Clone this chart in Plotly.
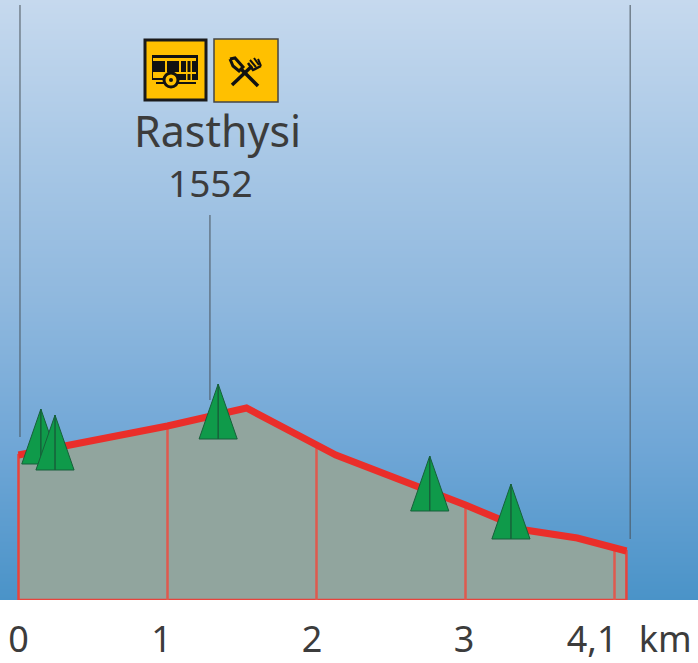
import plotly.graph_objects as go

W, H, PLOT_H = 698, 663, 600
X0, PX_PER_KM = 18.5, 149.0
Y_TOP, Y_BOT = 1960, 1360

profile_km = [0, 1.0, 1.53, 2.13, 3.0, 3.4, 3.75, 4.08]
profile_m = [1505, 1534, 1552, 1505, 1455, 1430, 1422, 1409]
tick_km = [1, 2, 3, 4.0]
tick_top_m = [1534, 1516, 1455, 1413]
label_km = [0.0, 0.96, 1.97, 2.99, 3.85, 4.34]
label_text = ["0", "1", "2", "3", "4,1", "km"]
tree_km = [0.15, 0.245, 1.34, 2.76, 3.305]
tree_base_m = [1496, 1490, 1521, 1449, 1421]
tree_half_km = 0.128
tree_height_m = 55
leader_km = [0.01, 1.285, 4.105]
leader_top_m = [1955, 1745, 1955]
leader_bot_m = [1523, 1560, 1421]
sky_y = [1360, 1510, 1660, 1810, 1960]
sky_z = [0, 0.25, 0.5, 0.75, 1]
sky_colors = [[0, "#4a93c8"], [0.25, "#6fa6d6"], [0.5, "#8fb8de"], [0.75, "#a9c8e6"], [1, "#c6d9ee"]]
YEL = "#ffc000"
DARK = "#3c3c3c"

fig = go.Figure()
fig.add_trace(go.Heatmap(x=[-0.2, 4.7], y=sky_y, z=[[v, v] for v in sky_z], colorscale=sky_colors,
                         showscale=False, zsmooth="best", hoverinfo="skip"))
end_km = profile_km[-1]
# area
fig.add_trace(go.Scatter(x=[0] + profile_km + [end_km, 0], y=[Y_BOT] + profile_m + [Y_BOT, Y_BOT],
                         mode="lines", fill="toself", fillcolor="#91a59e",
                         line=dict(color="#e8433c", width=2.5), showlegend=False))
# km lines
vx, vy = [], []
for k, t in zip(tick_km, tick_top_m):
    vx += [k, k, None]
    vy += [Y_BOT, t, None]
fig.add_trace(go.Scatter(x=vx, y=vy, mode="lines", line=dict(color="#df5a4e", width=2.5), showlegend=False))
# leaders
lx, ly = [], []
for k, a, b in zip(leader_km, leader_top_m, leader_bot_m):
    lx += [k, k, None]
    ly += [a, b, None]
fig.add_trace(go.Scatter(x=lx, y=ly, mode="lines", line=dict(color="#4a545c", width=1), showlegend=False))
# profile
fig.add_trace(go.Scatter(x=profile_km, y=profile_m, mode="lines",
                         line=dict(color="#ea2e2a", width=7), showlegend=False))
# trees
for k, b in zip(tree_km, tree_base_m):
    fig.add_trace(go.Scatter(x=[k - tree_half_km, k, k + tree_half_km, k - tree_half_km],
                             y=[b, b + tree_height_m, b, b], mode="lines", fill="toself",
                             fillcolor="#0f9a4a", line=dict(color="#17603a", width=1), showlegend=False))
    fig.add_trace(go.Scatter(x=[k, k], y=[b, b + tree_height_m], mode="lines",
                             line=dict(color="#17603a", width=1.5), showlegend=False))


def px(x):
    return x / W


def py(y):
    return 1 - y / PLOT_H


def path(points, close=False):
    s = "M" + " L".join(f"{px(a):.5f},{py(b):.5f}" for a, b in points)
    return s + (" Z" if close else "")


def shape_rect(x0, y0, x1, y1, fill, line=None, lw=0):
    fig.add_shape(type="rect", xref="paper", yref="paper", x0=px(x0), x1=px(x1), y0=py(y0), y1=py(y1),
                  fillcolor=fill, line=dict(color=line or fill, width=lw))


def shape_line(pts, width=3, color="#111"):
    fig.add_shape(type="path", xref="paper", yref="paper", path=path(pts),
                  line=dict(color=color, width=width))


# bus icon
shape_rect(145, 40, 206, 100, YEL, "#1a1a1a", 3)
shape_rect(152, 55, 198, 80, "#111", "#111", 0)
shape_rect(153, 58, 196, 61, YEL)
shape_rect(165, 61, 167, 72, YEL)
shape_rect(179, 61, 181, 72, YEL)
shape_rect(186, 61, 187.5, 80, YEL)
shape_rect(190.5, 61, 192, 80, YEL)
shape_rect(153, 72, 196, 74, YEL)
shape_rect(153, 74, 166, 78, YEL)
fig.add_shape(type="circle", xref="paper", yref="paper", x0=px(164), x1=px(178), y0=py(73), y1=py(87),
              fillcolor=YEL, line=dict(color="#111", width=3))
fig.add_shape(type="circle", xref="paper", yref="paper", x0=px(169), x1=px(173), y0=py(78), y1=py(82),
              fillcolor="#111", line=dict(color="#111", width=0))
shape_line([(156, 83), (165, 83)], 2)
shape_line([(178, 83), (196, 83)], 2)
# cutlery icon
shape_rect(214, 39, 278, 102, YEL, "#444", 1.5)
shape_line([(258, 86), (241, 69)], 3.5)
shape_line([(230, 59), (235, 58), (243, 67), (239, 71), (233, 66), (230, 59)], 3)
shape_line([(232, 85), (252, 66)], 3.5)
shape_line([(248, 63), (253, 70), (261, 66)], 2.5)
shape_line([(250, 60), (256, 67)], 2)
shape_line([(254, 58), (259, 65)], 2)
shape_line([(258, 59), (261, 66)], 2)

for txt, x, y, size in [("Rasthysi", 217, 130, 43), ("1552", 210, 183, 37)]:
    fig.add_annotation(x=px(x), y=py(y), xref="paper", yref="paper", xanchor="center", yanchor="middle",
                       text=txt, showarrow=False, font=dict(family="Noto Sans", size=size, color=DARK))

fig.update_layout(
    width=W, height=H, autosize=False, margin=dict(l=0, r=0, t=0, b=H - PLOT_H),
    paper_bgcolor="white", plot_bgcolor="white", showlegend=False,
    xaxis=dict(range=[-X0 / PX_PER_KM, (W - X0) / PX_PER_KM], showgrid=False, zeroline=False, showline=False,
               tickmode="array", tickvals=label_km, ticktext=label_text, ticks="", ticklabelstandoff=15,
               tickfont=dict(family="Noto Sans", size=36, color=DARK)),
    yaxis=dict(range=[Y_BOT, Y_TOP], visible=False),
)
fig.write_html("out.html", config={"displayModeBar": False},
               post_script="document.body.style.margin='0';document.body.style.overflow='hidden';")
